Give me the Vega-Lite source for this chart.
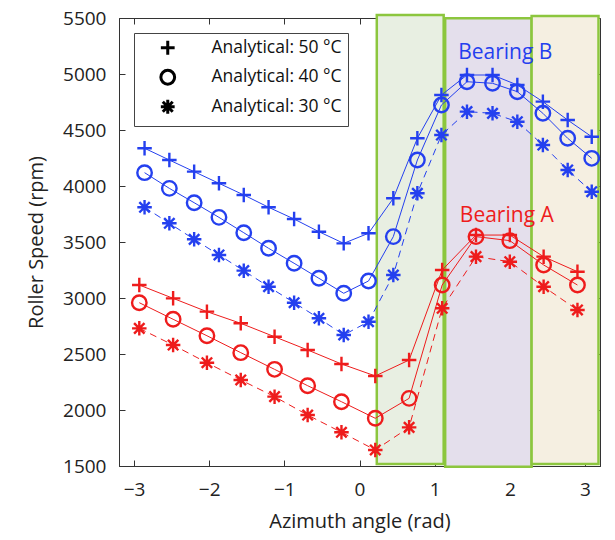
{
  "$schema": "https://vega.github.io/schema/vega-lite/v6.json",
  "width": 481,
  "height": 448,
  "autosize": {"type": "none"},
  "padding": {"left": 119, "top": 18, "right": 15, "bottom": 74},
  "background": "white",
  "config": {
    "font": "Open Sans",
    "view": {"stroke": "#333333", "strokeWidth": 1},
    "axis": {
      "grid": false,
      "domainColor": "#333333",
      "tickColor": "#333333",
      "labelColor": "#222222",
      "titleColor": "#222222",
      "labelFont": "Open Sans",
      "titleFont": "Open Sans",
      "labelFontSize": 19,
      "titleFontSize": 20,
      "titleFontWeight": "normal",
      "tickSize": -6,
      "format": "d"
    }
  },
  "datasets": {
    "regions": [
      {"region": "g", "x1": 0.23, "x2": 1.12, "y1": 1518, "y2": 5527},
      {"region": "p", "x1": 1.14, "x2": 2.29, "y1": 1494, "y2": 5497},
      {"region": "t", "x1": 2.29, "x2": 3.18, "y1": 1518, "y2": 5518}
    ],
    "labels": [
      {"label": "Bearing B", "bearing": "B", "x": 1.94, "y": 5190},
      {"label": "Bearing A", "bearing": "A", "x": 1.96, "y": 3730}
    ],
    "pts": [
      {"bearing": "B", "temp": "Analytical: 50 °C", "x": -2.86, "y": 4337},
      {"bearing": "B", "temp": "Analytical: 50 °C", "x": -2.53, "y": 4232},
      {"bearing": "B", "temp": "Analytical: 50 °C", "x": -2.2, "y": 4128},
      {"bearing": "B", "temp": "Analytical: 50 °C", "x": -1.87, "y": 4024},
      {"bearing": "B", "temp": "Analytical: 50 °C", "x": -1.54, "y": 3920},
      {"bearing": "B", "temp": "Analytical: 50 °C", "x": -1.21, "y": 3810},
      {"bearing": "B", "temp": "Analytical: 50 °C", "x": -0.87, "y": 3705},
      {"bearing": "B", "temp": "Analytical: 50 °C", "x": -0.54, "y": 3592},
      {"bearing": "B", "temp": "Analytical: 50 °C", "x": -0.21, "y": 3488},
      {"bearing": "B", "temp": "Analytical: 50 °C", "x": 0.12, "y": 3578},
      {"bearing": "B", "temp": "Analytical: 50 °C", "x": 0.45, "y": 3890},
      {"bearing": "B", "temp": "Analytical: 50 °C", "x": 0.77, "y": 4426},
      {"bearing": "B", "temp": "Analytical: 50 °C", "x": 1.09, "y": 4812},
      {"bearing": "B", "temp": "Analytical: 50 °C", "x": 1.43, "y": 4991},
      {"bearing": "B", "temp": "Analytical: 50 °C", "x": 1.77, "y": 4991},
      {"bearing": "B", "temp": "Analytical: 50 °C", "x": 2.1, "y": 4902},
      {"bearing": "B", "temp": "Analytical: 50 °C", "x": 2.44, "y": 4753},
      {"bearing": "B", "temp": "Analytical: 50 °C", "x": 2.77, "y": 4589},
      {"bearing": "B", "temp": "Analytical: 50 °C", "x": 3.09, "y": 4440},
      {"bearing": "B", "temp": "Analytical: 40 °C", "x": -2.86, "y": 4119},
      {"bearing": "B", "temp": "Analytical: 40 °C", "x": -2.53, "y": 3979},
      {"bearing": "B", "temp": "Analytical: 40 °C", "x": -2.2, "y": 3851},
      {"bearing": "B", "temp": "Analytical: 40 °C", "x": -1.87, "y": 3720},
      {"bearing": "B", "temp": "Analytical: 40 °C", "x": -1.54, "y": 3583},
      {"bearing": "B", "temp": "Analytical: 40 °C", "x": -1.21, "y": 3444},
      {"bearing": "B", "temp": "Analytical: 40 °C", "x": -0.87, "y": 3310},
      {"bearing": "B", "temp": "Analytical: 40 °C", "x": -0.54, "y": 3176},
      {"bearing": "B", "temp": "Analytical: 40 °C", "x": -0.21, "y": 3042},
      {"bearing": "B", "temp": "Analytical: 40 °C", "x": 0.12, "y": 3152},
      {"bearing": "B", "temp": "Analytical: 40 °C", "x": 0.45, "y": 3548},
      {"bearing": "B", "temp": "Analytical: 40 °C", "x": 0.77, "y": 4232},
      {"bearing": "B", "temp": "Analytical: 40 °C", "x": 1.09, "y": 4723},
      {"bearing": "B", "temp": "Analytical: 40 °C", "x": 1.43, "y": 4931},
      {"bearing": "B", "temp": "Analytical: 40 °C", "x": 1.77, "y": 4917},
      {"bearing": "B", "temp": "Analytical: 40 °C", "x": 2.1, "y": 4842},
      {"bearing": "B", "temp": "Analytical: 40 °C", "x": 2.44, "y": 4649},
      {"bearing": "B", "temp": "Analytical: 40 °C", "x": 2.77, "y": 4426},
      {"bearing": "B", "temp": "Analytical: 40 °C", "x": 3.09, "y": 4247},
      {"bearing": "B", "temp": "Analytical: 30 °C", "x": -2.86, "y": 3810},
      {"bearing": "B", "temp": "Analytical: 30 °C", "x": -2.53, "y": 3667},
      {"bearing": "B", "temp": "Analytical: 30 °C", "x": -2.2, "y": 3524},
      {"bearing": "B", "temp": "Analytical: 30 °C", "x": -1.87, "y": 3384},
      {"bearing": "B", "temp": "Analytical: 30 °C", "x": -1.54, "y": 3244},
      {"bearing": "B", "temp": "Analytical: 30 °C", "x": -1.21, "y": 3101},
      {"bearing": "B", "temp": "Analytical: 30 °C", "x": -0.87, "y": 2958},
      {"bearing": "B", "temp": "Analytical: 30 °C", "x": -0.54, "y": 2819},
      {"bearing": "B", "temp": "Analytical: 30 °C", "x": -0.21, "y": 2670},
      {"bearing": "B", "temp": "Analytical: 30 °C", "x": 0.12, "y": 2788},
      {"bearing": "B", "temp": "Analytical: 30 °C", "x": 0.45, "y": 3205},
      {"bearing": "B", "temp": "Analytical: 30 °C", "x": 0.77, "y": 3935},
      {"bearing": "B", "temp": "Analytical: 30 °C", "x": 1.09, "y": 4455},
      {"bearing": "B", "temp": "Analytical: 30 °C", "x": 1.43, "y": 4664},
      {"bearing": "B", "temp": "Analytical: 30 °C", "x": 1.77, "y": 4649},
      {"bearing": "B", "temp": "Analytical: 30 °C", "x": 2.1, "y": 4574},
      {"bearing": "B", "temp": "Analytical: 30 °C", "x": 2.44, "y": 4366},
      {"bearing": "B", "temp": "Analytical: 30 °C", "x": 2.77, "y": 4143},
      {"bearing": "B", "temp": "Analytical: 30 °C", "x": 3.09, "y": 3949},
      {"bearing": "A", "temp": "Analytical: 50 °C", "x": -2.93, "y": 3116},
      {"bearing": "A", "temp": "Analytical: 50 °C", "x": -2.48, "y": 2997},
      {"bearing": "A", "temp": "Analytical: 50 °C", "x": -2.03, "y": 2878},
      {"bearing": "A", "temp": "Analytical: 50 °C", "x": -1.58, "y": 2774},
      {"bearing": "A", "temp": "Analytical: 50 °C", "x": -1.13, "y": 2654},
      {"bearing": "A", "temp": "Analytical: 50 °C", "x": -0.69, "y": 2536},
      {"bearing": "A", "temp": "Analytical: 50 °C", "x": -0.24, "y": 2411},
      {"bearing": "A", "temp": "Analytical: 50 °C", "x": 0.21, "y": 2304},
      {"bearing": "A", "temp": "Analytical: 50 °C", "x": 0.66, "y": 2446},
      {"bearing": "A", "temp": "Analytical: 50 °C", "x": 1.1, "y": 3250},
      {"bearing": "A", "temp": "Analytical: 50 °C", "x": 1.55, "y": 3562},
      {"bearing": "A", "temp": "Analytical: 50 °C", "x": 2.0, "y": 3562},
      {"bearing": "A", "temp": "Analytical: 50 °C", "x": 2.45, "y": 3369},
      {"bearing": "A", "temp": "Analytical: 50 °C", "x": 2.9, "y": 3235},
      {"bearing": "A", "temp": "Analytical: 40 °C", "x": -2.93, "y": 2958},
      {"bearing": "A", "temp": "Analytical: 40 °C", "x": -2.48, "y": 2810},
      {"bearing": "A", "temp": "Analytical: 40 °C", "x": -2.03, "y": 2663},
      {"bearing": "A", "temp": "Analytical: 40 °C", "x": -1.58, "y": 2512},
      {"bearing": "A", "temp": "Analytical: 40 °C", "x": -1.13, "y": 2363},
      {"bearing": "A", "temp": "Analytical: 40 °C", "x": -0.69, "y": 2217},
      {"bearing": "A", "temp": "Analytical: 40 °C", "x": -0.24, "y": 2074},
      {"bearing": "A", "temp": "Analytical: 40 °C", "x": 0.21, "y": 1926},
      {"bearing": "A", "temp": "Analytical: 40 °C", "x": 0.66, "y": 2104},
      {"bearing": "A", "temp": "Analytical: 40 °C", "x": 1.1, "y": 3116},
      {"bearing": "A", "temp": "Analytical: 40 °C", "x": 1.55, "y": 3548},
      {"bearing": "A", "temp": "Analytical: 40 °C", "x": 2.0, "y": 3512},
      {"bearing": "A", "temp": "Analytical: 40 °C", "x": 2.45, "y": 3295},
      {"bearing": "A", "temp": "Analytical: 40 °C", "x": 2.9, "y": 3116},
      {"bearing": "A", "temp": "Analytical: 30 °C", "x": -2.93, "y": 2729},
      {"bearing": "A", "temp": "Analytical: 30 °C", "x": -2.48, "y": 2580},
      {"bearing": "A", "temp": "Analytical: 30 °C", "x": -2.03, "y": 2422},
      {"bearing": "A", "temp": "Analytical: 30 °C", "x": -1.58, "y": 2268},
      {"bearing": "A", "temp": "Analytical: 30 °C", "x": -1.13, "y": 2119},
      {"bearing": "A", "temp": "Analytical: 30 °C", "x": -0.69, "y": 1955},
      {"bearing": "A", "temp": "Analytical: 30 °C", "x": -0.24, "y": 1801},
      {"bearing": "A", "temp": "Analytical: 30 °C", "x": 0.21, "y": 1643},
      {"bearing": "A", "temp": "Analytical: 30 °C", "x": 0.66, "y": 1845},
      {"bearing": "A", "temp": "Analytical: 30 °C", "x": 1.1, "y": 2908},
      {"bearing": "A", "temp": "Analytical: 30 °C", "x": 1.55, "y": 3369},
      {"bearing": "A", "temp": "Analytical: 30 °C", "x": 2.0, "y": 3324},
      {"bearing": "A", "temp": "Analytical: 30 °C", "x": 2.45, "y": 3101},
      {"bearing": "A", "temp": "Analytical: 30 °C", "x": 2.9, "y": 2893}
    ]
  },
  "layer": [
    {
      "data": {"name": "regions"},
      "mark": {"type": "rect", "strokeWidth": 2.5, "stroke": "#8cc63e"},
      "encoding": {
        "x": {
          "field": "x1", "type": "quantitative",
          "scale": {"domain": [-3.2, 3.2], "nice": false, "zero": false},
          "axis": {"orient": "bottom", "values": [-3, -2, -1, 0, 1, 2, 3], "title": "Azimuth angle (rad)", "labelPadding": 20, "titlePadding": 12}
        },
        "x2": {"field": "x2"},
        "y": {
          "field": "y1", "type": "quantitative",
          "scale": {"domain": [1500, 5500], "nice": false, "zero": false},
          "axis": {"orient": "left", "values": [1500, 2000, 2500, 3000, 3500, 4000, 4500, 5000, 5500], "title": "Roller Speed (rpm)", "labelPadding": 19, "titlePadding": 16}
        },
        "y2": {"field": "y2"},
        "fill": {
          "field": "region", "type": "nominal",
          "scale": {"domain": ["g", "p", "t"], "range": ["#e8efe2", "#e4dfec", "#f5efe1"]},
          "legend": null
        }
      }
    },
    {
      "data": {"name": "pts"},
      "transform": [{"filter": "datum.temp !== 'Analytical: 30 °C'"}],
      "mark": {"type": "line", "strokeWidth": 1},
      "encoding": {
        "x": {"field": "x", "type": "quantitative", "axis": null},
        "y": {"field": "y", "type": "quantitative", "axis": null},
        "detail": [{"field": "bearing"}, {"field": "temp"}],
        "order": {"field": "x", "type": "quantitative"},
        "color": {
          "field": "bearing", "type": "nominal",
          "scale": {"domain": ["A", "B"], "range": ["#ee1c1c", "#2440ef"]},
          "legend": null
        }
      }
    },
    {
      "data": {"name": "pts"},
      "transform": [{"filter": "datum.temp === 'Analytical: 30 °C'"}],
      "mark": {"type": "line", "strokeWidth": 1, "strokeDash": [7, 5]},
      "encoding": {
        "x": {"field": "x", "type": "quantitative", "axis": null},
        "y": {"field": "y", "type": "quantitative", "axis": null},
        "detail": {"field": "bearing"},
        "order": {"field": "x", "type": "quantitative"},
        "color": {
          "field": "bearing", "type": "nominal",
          "scale": {"domain": ["A", "B"], "range": ["#ee1c1c", "#2440ef"]},
          "legend": null
        }
      }
    },
    {
      "data": {"name": "pts"},
      "mark": {"type": "point", "filled": false, "strokeWidth": 2.4, "opacity": 1, "size": 210},
      "encoding": {
        "x": {"field": "x", "type": "quantitative", "axis": {"orient": "top", "labels": false, "title": null, "values": [-3, -2, -1, 0, 1, 2, 3], "domain": false}},
        "y": {"field": "y", "type": "quantitative", "axis": {"orient": "right", "labels": false, "title": null, "values": [1500, 2000, 2500, 3000, 3500, 4000, 4500, 5000, 5500], "domain": false}},
        "color": {
          "field": "bearing", "type": "nominal",
          "scale": {"domain": ["A", "B"], "range": ["#ee1c1c", "#2440ef"]},
          "legend": null
        },
        "shape": {
          "field": "temp", "type": "nominal",
          "scale": {
            "domain": ["Analytical: 50 °C", "Analytical: 40 °C", "Analytical: 30 °C"],
            "range": ["M-1,0L1,0M0,-1L0,1", "circle", "M-1,0L1,0M0,-1L0,1M-0.72,-0.72L0.72,0.72M-0.72,0.72L0.72,-0.72"]
          },
          "legend": {
            "title": null,
            "orient": "none",
            "legendX": 15,
            "legendY": 15,
            "strokeColor": "#444444",
            "fillColor": "white",
            "padding": 6,
            "symbolOffset": 19,
            "symbolSize": 190,
            "symbolStrokeColor": "black",
            "symbolStrokeWidth": 3,
            "labelOffset": 35,
            "labelFontSize": 17.5,
            "labelFont": "Open Sans",
            "labelColor": "#111111",
            "rowPadding": 2.5
          }
        }
      }
    },
    {
      "data": {"name": "labels"},
      "mark": {"type": "text", "fontSize": 21, "font": "Open Sans", "align": "center", "baseline": "middle"},
      "encoding": {
        "x": {"field": "x", "type": "quantitative", "axis": null},
        "y": {"field": "y", "type": "quantitative", "axis": null},
        "text": {"field": "label"},
        "color": {
          "field": "bearing", "type": "nominal",
          "scale": {"domain": ["A", "B"], "range": ["#ee1c1c", "#2440ef"]},
          "legend": null
        }
      }
    }
  ],
  "resolve": {"axis": {"x": "independent", "y": "independent"}}
}
